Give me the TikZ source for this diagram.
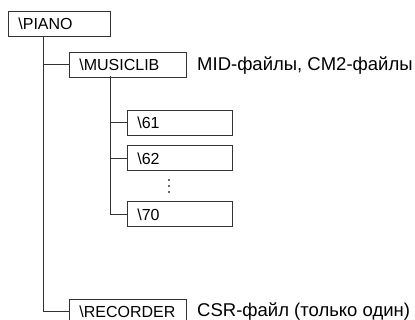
\documentclass[tikz,border=0pt]{standalone}
\usepackage{fontspec}
\setmainfont{Liberation Sans}
\begin{document}
\begin{tikzpicture}[x=1pt,y=1pt,
 box/.style={draw=black!80, line width=0.8pt, minimum height=25pt, inner xsep=10pt, inner ysep=0pt, anchor=north west, align=left, font=\fontsize{16}{18}\selectfont},
 lbl/.style={anchor=base west, inner sep=0pt, font=\fontsize{18.5}{20}\selectfont},
 conn/.style={draw=black!80, line width=0.8pt},
 dotmark/.style={fill=black!80}]
\useasboundingbox (0,0) rectangle (415,-320);
\node[box, text width=82pt] (piano) at (8,-11) {\textbackslash PIANO};
\node[box, text width=97pt] (musiclib) at (69,-52) {\textbackslash MUSICLIB};
\node[box, text width=85pt] (d61) at (127,-110) {\textbackslash 61};
\node[box, text width=85pt] (d62) at (127,-145.5) {\textbackslash 62};
\node[box, text width=85pt] (d70) at (127,-201.5) {\textbackslash 70};
\node[box, text width=97pt] (recorder) at (69,-299) {\textbackslash RECORDER};
\node[lbl] (midl) at (197,-70.5) {MID-файлы, CM2-файлы};
\node[lbl] (csrl) at (197,-317) {CSR-файл (только один)};
\coordinate (t0) at (43.5,-36);
\draw[conn] (t0) |- (recorder.west);
\draw[conn] (t0 |- musiclib.west) -- (musiclib.west);
\coordinate (t1) at (110.5,-76);
\draw[conn] (t1) |- (d70.west);
\draw[conn] (t1 |- d61.west) -- (d61.west);
\draw[conn] (t1 |- d62.west) -- (d62.west);
\fill[dotmark] (169,-180) circle (1.1);
\fill[dotmark] (169,-186) circle (1.1);
\fill[dotmark] (169,-192) circle (1.1);
\end{tikzpicture}
\end{document}
